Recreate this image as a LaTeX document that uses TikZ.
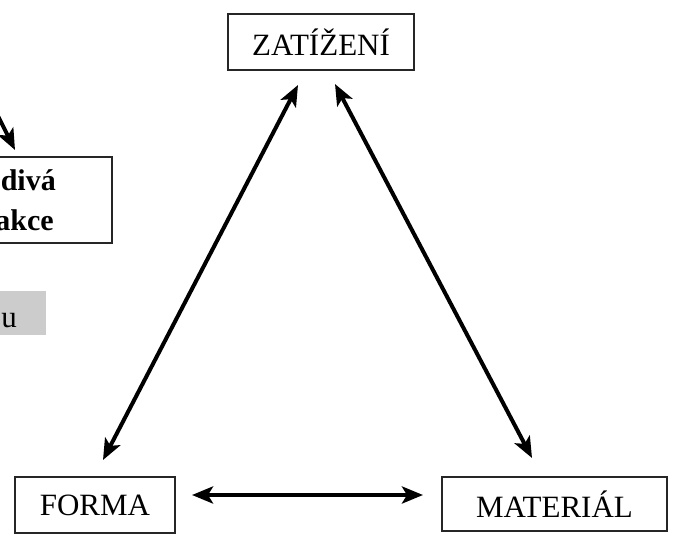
\documentclass[tikz,border=0pt]{standalone}
\usepackage{fontspec}
\setmainfont{Liberation Serif}
\usetikzlibrary{arrows.meta}
\begin{document}
\begin{tikzpicture}[x=1pt,y=-1pt,
  box/.style={draw=black!85, line width=1.5pt, inner sep=0pt},
  lbl/.style={font=\fontsize{31}{36}\selectfont},
  blbl/.style={font=\bfseries\fontsize{30}{36}\selectfont, inner sep=0pt},
  arr/.style={line width=4pt, {Stealth[length=21pt,width=17pt,inset=5pt]}-{Stealth[length=21pt,width=17pt,inset=5pt]}},
  arrone/.style={line width=4pt, -{Stealth[length=21pt,width=17pt,inset=5pt]}}]
\useasboundingbox (0,0) rectangle (674,541);
% boxes
\node[box, lbl, minimum width=186pt, minimum height=56pt] (zat) at (321,42) {ZATÍŽENÍ};
\node[box, lbl, minimum width=160pt, minimum height=56pt] (forma) at (95,505) {FORMA};
\node[box, lbl, minimum width=225pt, minimum height=54pt] (mat) at (554.5,504) {MATERIÁL};
\node[box, minimum width=262pt, minimum height=86pt] (reakce) at (-19,200) {};
\node[blbl, anchor=base east] (t1) at (56,190) {divá};
\node[blbl, anchor=base east] (t2) at (54,230) {akce};
\node[fill=black!20, minimum width=106pt, minimum height=44pt, inner sep=0pt] (grey) at (-7,313) {};
\node[lbl, anchor=base east, inner sep=0pt] (gt) at (17,327) {u};
% arrow ends
\coordinate (zl) at (298,85);
\coordinate (zr) at (335,84);
\coordinate (ft) at (103,460);
\coordinate (fr) at (192,495);
\coordinate (ml) at (423,495);
\coordinate (mt) at (532,458);
\coordinate (src) at (-20,80);
\coordinate (rt) at (15,150);
\draw[arr] (ft) -- (zl);
\draw[arr] (mt) -- (zr);
\draw[arr] (fr) -- (ml);
\draw[arrone] (src) -- (rt);
\end{tikzpicture}
\end{document}
